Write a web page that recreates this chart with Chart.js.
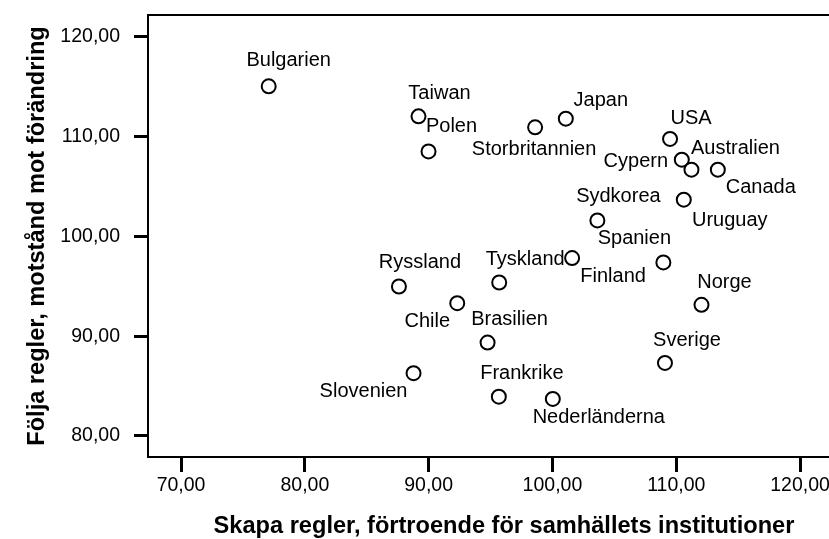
<!DOCTYPE html>
<html lang="sv">
<head>
  <meta charset="UTF-8" />
  <title>Skapa regler / Följa regler</title>
  <style>
    html, body { margin: 0; padding: 0; background: #fff; }
    #wrap { width: 829px; height: 539px; }
  </style>
</head>
<body>
  <div id="wrap"><canvas id="scatter" width="829" height="539"></canvas></div>

  <script src="https://cdn.jsdelivr.net/npm/chart.js"></script>
  <script>
    // data
    const countries = ['Bulgarien', 'Taiwan', 'Polen', 'Storbritannien', 'Japan', 'USA', 'Cypern',
      'Australien', 'Canada', 'Uruguay', 'Sydkorea', 'Finland', 'Spanien', 'Tyskland', 'Ryssland',
      'Norge', 'Chile', 'Brasilien', 'Sverige', 'Slovenien', 'Frankrike', 'Nederländerna'];
    const skapa = [77.08, 89.18, 89.99, 98.60, 101.08, 109.50, 110.45, 111.23, 113.36, 110.61, 103.63,
      101.59, 108.96, 95.70, 87.60, 112.04, 92.31, 94.76, 109.09, 88.78, 95.67, 100.03];
    const folja = [115.04, 112.03, 108.52, 110.93, 111.80, 109.77, 107.69, 106.69, 106.69, 103.68, 101.60,
      97.83, 97.39, 95.38, 94.98, 93.14, 93.31, 89.36, 87.32, 86.29, 83.94, 83.71];
    const xTicks = [70, 80, 90, 100, 110, 120];
    const yTicks = [80, 90, 100, 110, 120];
    const xTitle = 'Skapa regler, förtroende för samhällets institutioner';
    const yTitle = 'Följa regler, motstånd mot förändring';

    // where each name sits relative to its point (px)
    const labelOffsets = [[20, -27], [21, -24], [23, -26], [-1, 21], [35, -20], [21, -22], [-46, 0],
      [44, -23], [43, 16], [46, 19], [21, -25], [41, 17], [-29, -25], [26, -24], [21, -25],
      [23, -24], [-30, 17], [22, -25], [22, -24], [-50, 17], [23, -25], [46, 17]];

    const FONT = 'Arial, "Liberation Sans", sans-serif';
    const fmt = v => Number(v).toFixed(2).replace('.', ',');

    const extras = {
      id: 'extras',
      afterDatasetsDraw(chart) {
        const ctx = chart.ctx;
        const area = chart.chartArea;
        const pts = chart.getDatasetMeta(0).data;
        ctx.save();
        // top frame line
        ctx.strokeStyle = '#000';
        ctx.lineWidth = 2;
        ctx.beginPath();
        ctx.moveTo(area.left, area.top);
        ctx.lineTo(area.right, area.top);
        ctx.stroke();
        // point names
        ctx.fillStyle = '#000';
        ctx.font = '20px ' + FONT;
        ctx.textAlign = 'center';
        ctx.textBaseline = 'alphabetic';
        pts.forEach((p, i) => {
          const [dx, dy] = labelOffsets[i];
          ctx.fillText(countries[i], p.x + dx, p.y + dy + 7);
        });
        // axis titles
        ctx.font = 'bold 23.6px ' + FONT;
        ctx.fillText(xTitle, 504, 533);
        ctx.translate(44, (area.top + area.bottom) / 2);
        ctx.rotate(-Math.PI / 2);
        ctx.fillText(yTitle, 0, 0);
        ctx.restore();
      }
    };

    new Chart(document.getElementById('scatter'), {
      type: 'scatter',
      data: {
        datasets: [{
          label: 'Länder',
          data: skapa.map((x, i) => ({ x, y: folja[i] })),
          pointRadius: 7,
          pointHoverRadius: 7,
          pointBorderWidth: 2,
          pointBorderColor: '#000',
          pointBackgroundColor: '#fff'
        }]
      },
      options: {
        responsive: false,
        animation: false,
        layout: { autoPadding: false, padding: { top: 15, right: 0, bottom: 0, left: 0 } },
        plugins: { legend: { display: false }, tooltip: { enabled: false } },
        scales: {
          x: {
            type: 'linear',
            min: 67.33,
            max: 122.34,
            grid: { drawOnChartArea: false, tickLength: 15, tickWidth: 3, tickColor: '#000' },
            border: { color: '#000', width: 2 },
            ticks: {
              color: '#000', font: { family: FONT, size: 19.5 }, padding: 2,
              maxRotation: 0, autoSkip: false, callback: fmt
            },
            afterBuildTicks: s => { s.ticks = xTicks.map(v => ({ value: v })); },
            afterFit: s => { s.height = 82; s.paddingLeft = 0; s.paddingRight = 0; }
          },
          y: {
            type: 'linear',
            min: 77.89,
            max: 122.19,
            grid: { drawOnChartArea: false, tickLength: 14, tickWidth: 3, tickColor: '#000' },
            border: { color: '#000', width: 2 },
            ticks: {
              color: '#000', font: { family: FONT, size: 19.5 }, padding: 14,
              autoSkip: false, callback: fmt
            },
            afterBuildTicks: s => { s.ticks = yTicks.map(v => ({ value: v })); },
            afterFit: s => { s.width = 148; s.paddingTop = 0; s.paddingBottom = 0; }
          }
        }
      },
      plugins: [extras]
    });
  </script>
</body>
</html>
